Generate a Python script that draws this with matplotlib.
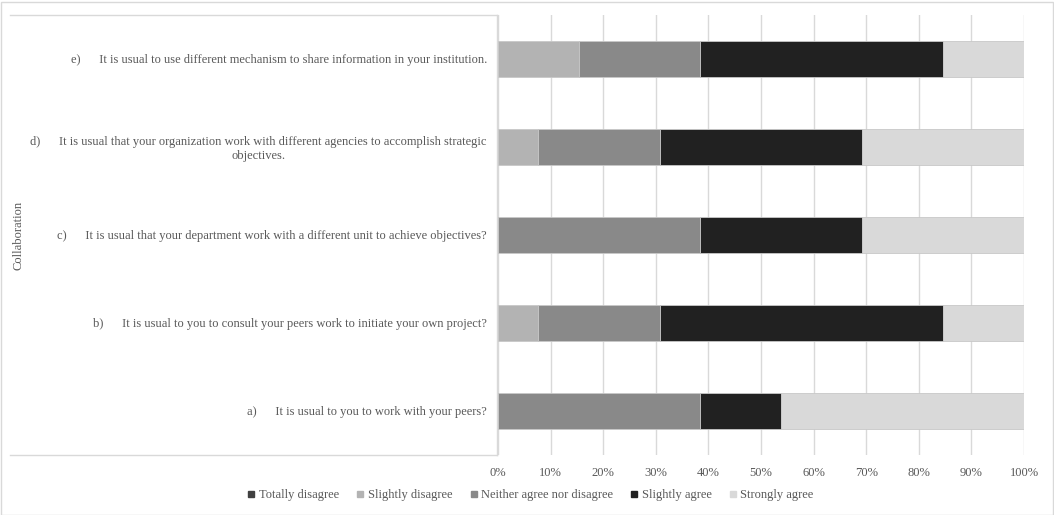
import matplotlib
matplotlib.use("Agg")
from matplotlib import pyplot as plt
from matplotlib.lines import Line2D
import numpy as np

plt.rcParams['font.family'] = ['Liberation Serif', 'DejaVu Serif']

questions = [
    "a)      It is usual to you to work with your peers?",
    "b)      It is usual to you to consult your peers work to initiate your own project?",
    "c)      It is usual that your department work with a different unit to achieve objectives?",
    "d)      It is usual that your organization work with different agencies to accomplish strategic\nobjectives.",
    "e)      It is usual to use different mechanism to share information in your institution.",
]
levels = ["Totally disagree", "Slightly disagree", "Neither agree nor disagree",
          "Slightly agree", "Strongly agree"]
colors = ["#404040", "#b3b3b3", "#898989", "#212121", "#d9d9d9"]

# percentages per question (a..e)
totally_disagree = [0.0, 0.0, 0.0, 0.0, 0.0]
slightly_disagree = [0.0, 7.69, 0.0, 7.69, 15.38]
neither = [38.46, 23.08, 38.46, 23.08, 23.08]
slightly_agree = [15.38, 53.85, 30.77, 38.46, 46.15]
strongly_agree = [46.15, 15.38, 30.77, 30.77, 15.38]
series = [totally_disagree, slightly_disagree, neither, slightly_agree, strongly_agree]

W, H = 1054, 515
fig = plt.figure(figsize=(W / 100, H / 100), dpi=100)
ax = fig.add_axes([498 / W, 1 - 455 / H, 526 / W, 440 / H])

y = np.arange(len(questions))
left = np.zeros(len(questions))
for vals, c in zip(series, colors):
    vals = np.array(vals)
    ax.barh(y, vals, left=left, height=0.4, color=c, edgecolor="#c8c8c8",
            linewidth=0.6, zorder=3)
    left += vals

ax.set_xlim(0, 100)
ax.set_ylim(-0.5, 4.5)
ax.set_xticks(np.arange(0, 101, 10))
ax.set_xticklabels([f"{v}%" for v in range(0, 101, 10)], color="#595959", fontsize=9)
ax.set_yticks(y)
ax.set_yticklabels(questions, color="#595959", fontsize=9, multialignment="center")
ax.tick_params(axis="y", length=0, pad=8)
ax.tick_params(axis="x", length=0, pad=9)
ax.grid(axis="x", color="#d9d9d9", linewidth=1, zorder=0)
for s in ax.spines.values():
    s.set_visible(False)

fig.text(18 / W, 1 - 235 / H, "Collaboration", rotation=90, va="center", ha="center",
         color="#595959", fontsize=9)

# box around the label area and outer frame
lc = "#d9d9d9"
fig.add_artist(Line2D([10 / W, 497 / W], [1 - 15 / H, 1 - 15 / H], color=lc, lw=1))
fig.add_artist(Line2D([10 / W, 497 / W], [1 - 455 / H, 1 - 455 / H], color=lc, lw=1))
fig.add_artist(Line2D([497 / W, 497 / W], [1 - 15 / H, 1 - 455 / H], color=lc, lw=1))
fig.add_artist(plt.Rectangle((0.5 / W, 0.5 / H), 1 - 2 / W, 1 - 2 / H, fill=False,
                             edgecolor=lc, lw=1, transform=fig.transFigure))

handles = [Line2D([], [], marker="s", linestyle="none", markersize=5, color=c) for c in colors]
fig.legend(handles, levels, loc="center", bbox_to_anchor=(530 / W, 1 - 495 / H), ncol=5,
           frameon=False, fontsize=9, handlelength=0.8, handletextpad=0.2,
           columnspacing=1.3, labelcolor="#595959")

fig.savefig("out.png", dpi=100)
